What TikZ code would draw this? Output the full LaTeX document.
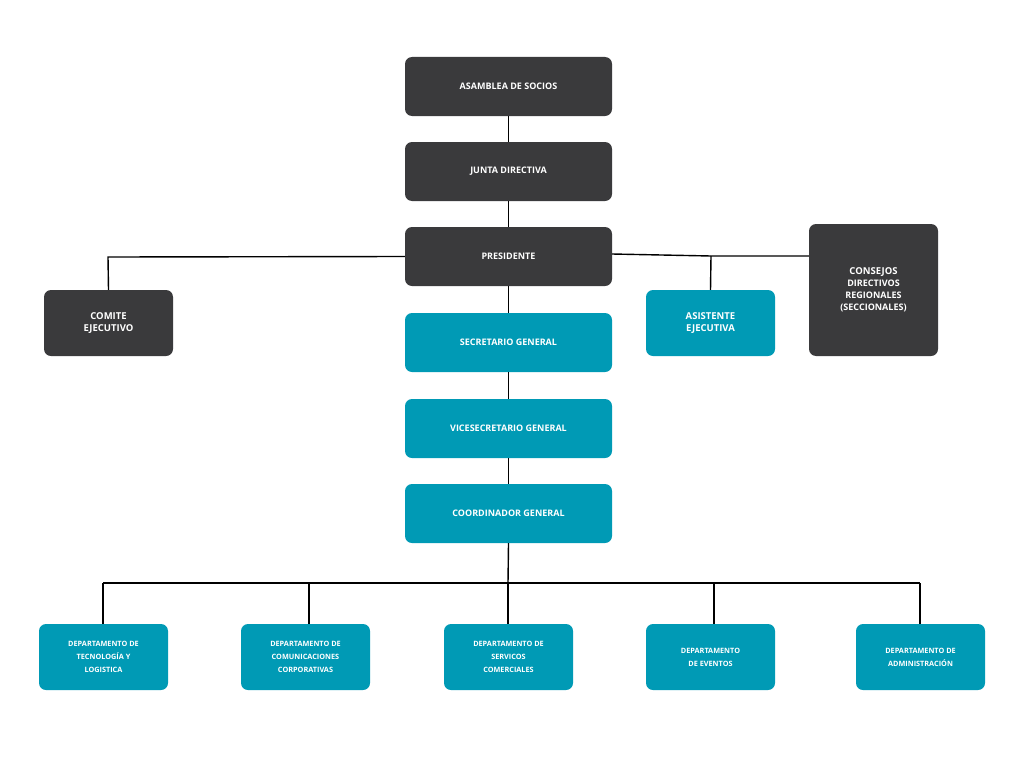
\documentclass[tikz,border=0pt]{standalone}
\usepackage{fontspec}
\setmainfont{Open Sans}
\definecolor{dk}{HTML}{3A3A3C}
\definecolor{tl}{HTML}{009AB5}
\begin{document}
\begin{tikzpicture}[x=1pt,y=-1pt,
 box/.style={rounded corners=7pt,text=white,font=\bfseries\fontsize{9}{12}\selectfont,align=center,inner sep=0pt},
 dkb/.style={box,fill=dk},
 tlb/.style={box,fill=tl},
 dep/.style={tlb,font=\bfseries\fontsize{7.3}{13}\selectfont},
 ln/.style={line width=1.4pt,black}]
\useasboundingbox (0,0) rectangle (1024,768);
\def\bx#1#2#3#4#5#6#7{\node[#2,minimum width=#5pt,minimum height=#6pt] (#1) at (#3,#4) {#7};}
\bx{asa}{dkb}{508.5}{86.5}{207}{59}{ASAMBLEA DE SOCIOS}
\bx{jun}{dkb}{508.5}{171.5}{207}{59}{JUNTA DIRECTIVA}
\bx{pre}{dkb}{508.5}{256.5}{207}{59}{PRESIDENTE}
\bx{sec}{tlb}{508.5}{342.5}{207}{59}{SECRETARIO GENERAL}
\bx{vic}{tlb}{508.5}{428.5}{207}{59}{VICESECRETARIO GENERAL}
\bx{coo}{tlb}{508.5}{513.5}{207}{59}{COORDINADOR GENERAL}
\bx{com}{dkb}{108.5}{323}{129}{66}{\fontsize{9.5}{25}\selectfont COMITE\\ \fontsize{9.5}{12}\selectfont EJECUTIVO}
\bx{asi}{tlb}{710.5}{323}{129}{66}{\fontsize{9.5}{25}\selectfont ASISTENTE\\ \fontsize{9.5}{12}\selectfont EJECUTIVA}
\bx{con}{dkb}{873.5}{290}{129}{132}{\fontsize{9.5}{24.5}\selectfont CONSEJOS\\DIRECTIVOS\\REGIONALES\\(SECCIONALES)}
\bx{d1}{dep}{103.5}{657}{129}{66}{DEPARTAMENTO DE\\TECNOLOGÍA Y\\LOGISTICA}
\bx{d2}{dep}{305.5}{657}{129}{66}{DEPARTAMENTO DE\\COMUNICACIONES\\CORPORATIVAS}
\bx{d3}{dep}{508.5}{657}{129}{66}{DEPARTAMENTO DE\\SERVICOS\\COMERCIALES}
\bx{d4}{dep}{710.5}{657}{129}{66}{DEPARTAMENTO\\DE EVENTOS}
\bx{d5}{dep}{920.5}{657}{129}{66}{DEPARTAMENTO DE\\ADMINISTRACIÓN}
\coordinate (bl) at (108,257);
\coordinate (ar) at (711,256);
\coordinate (bus) at (508,583);
\begin{scope}[on background layer/.try]
\end{scope}
\draw[ln] (asa) -- (jun);
\draw[ln] (jun) -- (pre);
\draw[ln] (pre) -- (sec);
\draw[ln] (sec) -- (vic);
\draw[ln] (vic) -- (coo);
\draw[ln] (pre.west) -- (bl) -- (com.north);
\draw[ln] (612,254) -- (ar) -- (con.west |- ar);
\draw[ln] (ar) -- (asi.north);
\draw[ln] (coo.south) -- (bus);
\draw[ln] (103,583) -- (920,583);
\foreach \d/\x in {d1/103,d2/309,d3/508,d4/714,d5/920} \draw[ln] (\x,583) -- (\x,624);
\end{tikzpicture}
\end{document}
